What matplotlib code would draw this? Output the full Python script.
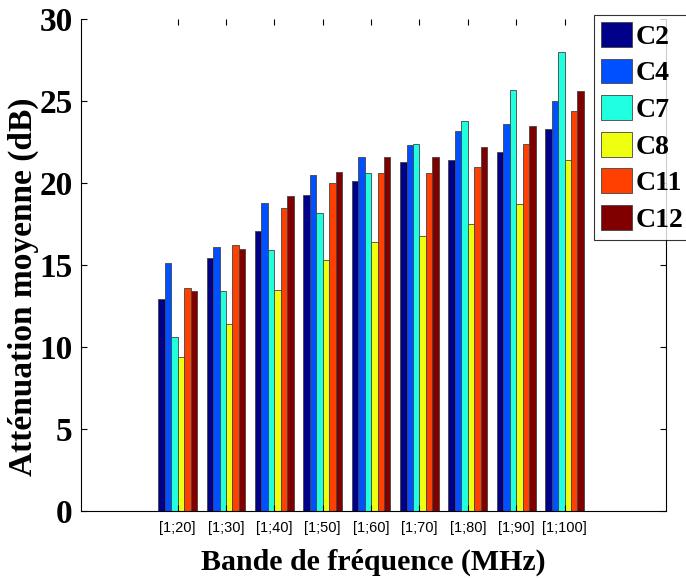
import numpy as np
import matplotlib
matplotlib.use("Agg")
import matplotlib.pyplot as plt

bands = ["[1;20]", "[1;30]", "[1;40]", "[1;50]", "[1;60]",
         "[1;70]", "[1;80]", "[1;90]", "[1;100]"]
names = ["C2", "C4", "C7", "C8", "C11", "C12"]

c2 = [12.9, 15.4, 17.1, 19.3, 20.1, 21.3, 21.4, 21.9, 23.3]
c4 = [15.1, 16.1, 18.8, 20.5, 21.6, 22.3, 23.2, 23.6, 25.0]
c7 = [10.6, 13.4, 15.9, 18.2, 20.6, 22.4, 23.8, 25.7, 28.0]
c8 = [9.4, 11.4, 13.5, 15.3, 16.4, 16.8, 17.5, 18.7, 21.4]
c11 = [13.6, 16.2, 18.5, 20.0, 20.6, 20.6, 21.0, 22.4, 24.4]
c12 = [13.4, 16.0, 19.2, 20.7, 21.6, 21.6, 22.2, 23.5, 25.6]

colors = ["#000088", "#0050FF", "#20FFDF", "#EEFF10", "#FF4000", "#800000"]

series = [c2, c4, c7, c8, c11, c12]

fig = plt.figure(figsize=(6.86, 5.78), dpi=100)
ax = fig.add_axes([0.118, 0.116, 0.853, 0.851])

x = np.arange(1, len(bands) + 1)
w = 0.8 / len(series)
for i, vals in enumerate(series):
    ax.bar(x + (i - 2.5) * w, vals, w, color=colors[i], edgecolor="#444444",
           linewidth=0.6, label=names[i])

ax.set_xlim(-1.0, 11.1)
ax.set_ylim(0, 30)
ax.set_xticks(x)
ax.set_xticklabels(bands, fontsize=10.5, family="Liberation Sans")
ax.set_yticks(range(0, 31, 5))
ax.set_yticklabels([str(v) for v in range(0, 31, 5)], fontsize=24,
                   family="Liberation Serif", weight="bold")
ax.tick_params(direction="in", top=True, right=True, length=4, width=0.8)
ax.tick_params(axis="x", pad=7)
ax.tick_params(axis="y", pad=6)
for s in ax.spines.values():
    s.set_linewidth(0.8)
ax.spines["top"].set_visible(False)

ax.set_ylabel("Atténuation moyenne (dB)", fontsize=24,
              family="Liberation Serif", weight="bold")
ax.yaxis.set_label_coords(-0.072, 0.455)
ax.set_xlabel("Bande de fréquence (MHz)", fontsize=21.5,
              family="Liberation Serif", weight="bold", labelpad=10)

leg = ax.legend(loc="upper left", bbox_to_anchor=(0.866, 0.974),
                bbox_transform=fig.transFigure, frameon=True, fancybox=False,
                edgecolor="black", handlelength=1.1, handleheight=1.0,
                handletextpad=0.15, labelspacing=0.31, borderaxespad=0,
                borderpad=0.25,
                prop={"family": "Liberation Serif", "weight": "bold", "size": 20})
leg.get_frame().set_linewidth(0.8)

fig.savefig("out.png", dpi=100)
